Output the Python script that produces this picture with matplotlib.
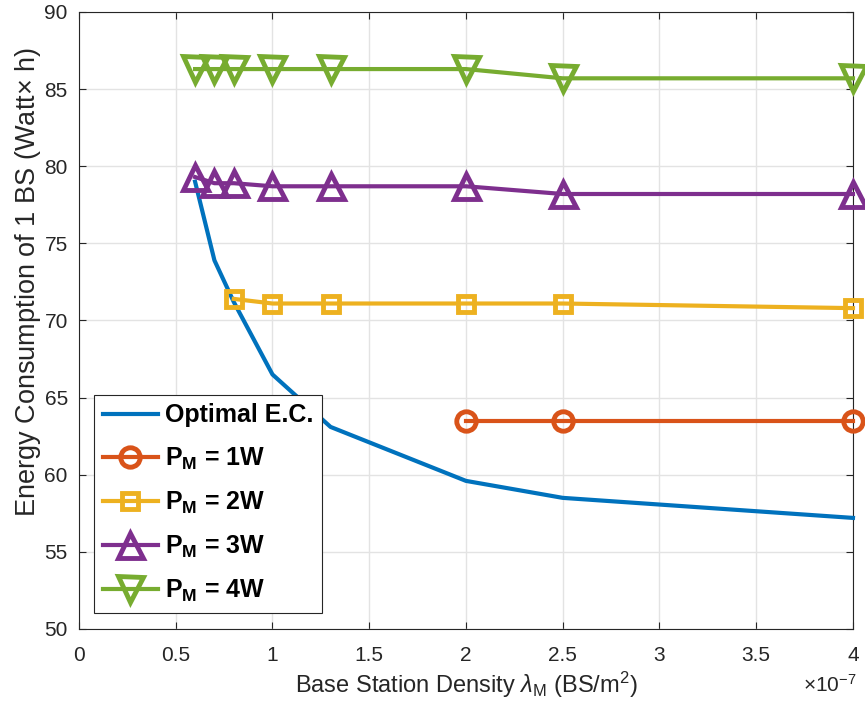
import matplotlib
matplotlib.use('Agg')
import matplotlib.pyplot as plt
from matplotlib.ticker import FuncFormatter

plt.rcParams['font.family'] = ['Liberation Sans', 'DejaVu Sans']
plt.rcParams['mathtext.fontset'] = 'custom'
plt.rcParams['mathtext.rm'] = 'Liberation Sans'
plt.rcParams['mathtext.bf'] = 'Liberation Sans:bold'
plt.rcParams['mathtext.it'] = 'Liberation Sans:italic'

# data
x_opt = [0.6e-7, 0.7e-7, 0.8e-7, 1.0e-7, 1.3e-7, 2.0e-7, 2.5e-7, 4.0e-7]
y_opt = [79.0, 73.9, 71.2, 66.5, 63.1, 59.6, 58.5, 57.2]

x_p1 = [2.0e-7, 2.5e-7, 4.0e-7]
y_p1 = [63.5, 63.5, 63.5]

x_p2 = [0.8e-7, 1.0e-7, 1.3e-7, 2.0e-7, 2.5e-7, 4.0e-7]
y_p2 = [71.4, 71.1, 71.1, 71.1, 71.1, 70.8]

x_p3 = [0.6e-7, 0.7e-7, 0.8e-7, 1.0e-7, 1.3e-7, 2.0e-7, 2.5e-7, 4.0e-7]
y_p3 = [79.3, 78.9, 78.9, 78.7, 78.7, 78.7, 78.2, 78.2]

x_p4 = [0.6e-7, 0.7e-7, 0.8e-7, 1.0e-7, 1.3e-7, 2.0e-7, 2.5e-7, 4.0e-7]
y_p4 = [86.3, 86.3, 86.3, 86.3, 86.3, 86.3, 85.7, 85.7]

labels = ['Optimal E.C.', r'$\mathbf{P_M}$ = 1W', r'$\mathbf{P_M}$ = 2W',
          r'$\mathbf{P_M}$ = 3W', r'$\mathbf{P_M}$ = 4W']

fig = plt.figure(figsize=(8.65, 7.18), dpi=100)
ax = fig.add_axes([0.0913, 0.124, 0.8948, 0.8593])

lw = 3
mew = 3.5
ax.plot(x_opt, y_opt, color='#0072BD', lw=lw, label=labels[0], clip_on=False, zorder=3)
ax.plot(x_p1, y_p1, color='#D95319', lw=lw, marker='o', ms=14, mew=mew,
        mfc='none', label=labels[1], clip_on=False, zorder=3)
ax.plot(x_p2, y_p2, color='#EDB120', lw=lw, marker='s', ms=11, mew=mew,
        mfc='none', label=labels[2], clip_on=False, zorder=3)
ax.plot(x_p3, y_p3, color='#7E2F8E', lw=lw, marker='^', ms=18, mew=mew,
        mfc='none', label=labels[3], clip_on=False, zorder=3)
ax.plot(x_p4, y_p4, color='#77AC30', lw=lw, marker='v', ms=18, mew=mew,
        mfc='none', label=labels[4], clip_on=False, zorder=3)

ax.set_xlim(0, 4e-7)
ax.set_ylim(50, 90)
ax.set_xticks([i * 0.5e-7 for i in range(9)])
ax.set_yticks(range(50, 91, 5))
ax.xaxis.set_major_formatter(FuncFormatter(lambda v, p: f'{v * 1e7:g}'))

ax.grid(True, color='#e3e3e3', lw=1)
ax.set_axisbelow(True)
ax.tick_params(direction='in', top=True, right=True, labelsize=15,
               colors='#262626', length=5)
ax.tick_params(axis='x', pad=12)
ax.tick_params(axis='y', pad=8)
for s in ax.spines.values():
    s.set_color('#262626')
    s.set_linewidth(0.8)

ax.set_xlabel(r'Base Station Density $\lambda_\mathrm{M}$ (BS/m$^\mathrm{2}$)',
              fontsize=17, color='#262626', labelpad=4)
ax.set_ylabel('Energy Consumption of 1 BS (Watt$\\times$ h)', fontsize=19.5,
              color='#262626')
ax.yaxis.set_label_coords(-0.047, 0.563)
ax.text(1.004, -0.102, r'$\times\mathrm{10^{-7}}$', transform=ax.transAxes,
        ha='right', va='baseline', fontsize=15, color='#262626')

leg = ax.legend(loc='lower left', bbox_to_anchor=(0.0194, 0.026),
                prop={'weight': 'bold', 'size': 18}, handlelength=2.2,
                handletextpad=0.3, labelspacing=0.72, borderpad=0.35,
                borderaxespad=0, fancybox=False, framealpha=1,
                edgecolor='#262626')
leg.get_frame().set_linewidth(0.8)

fig.savefig('out.png', dpi=100)
